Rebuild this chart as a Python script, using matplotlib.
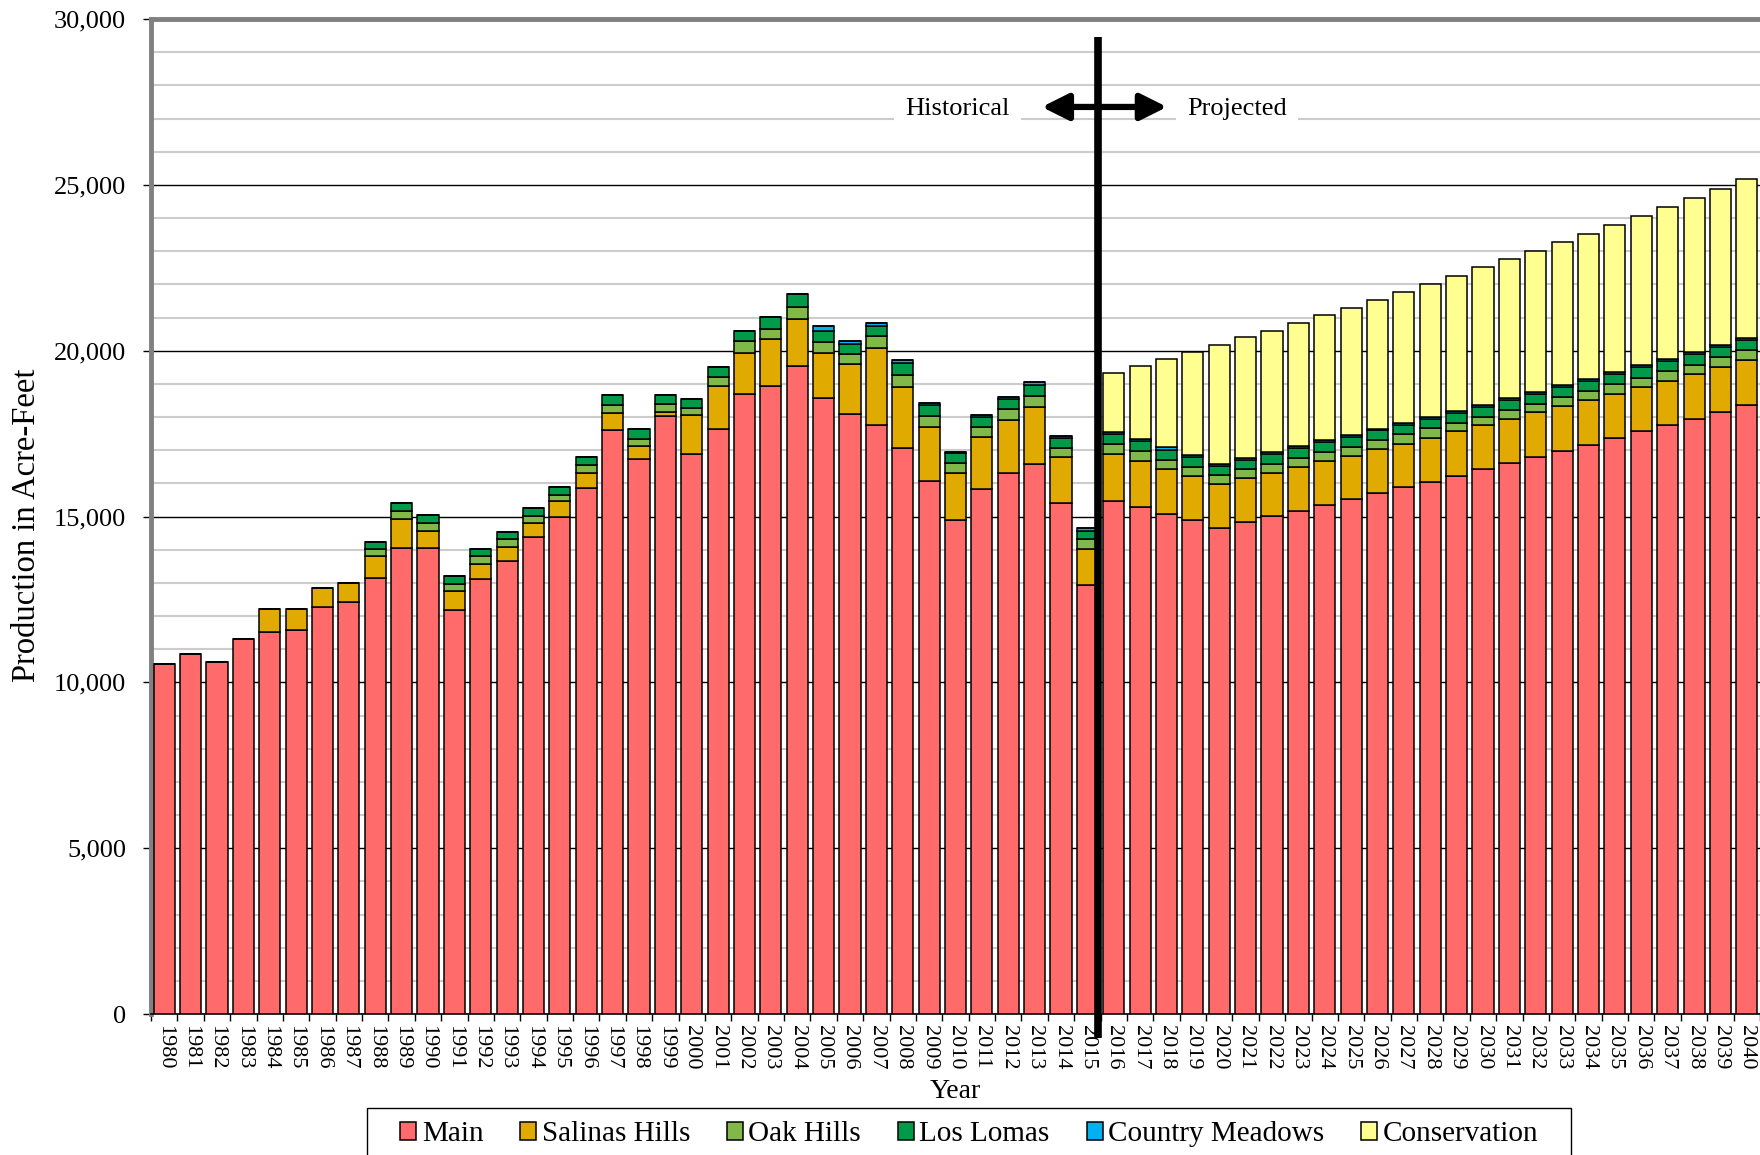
import numpy as np
import matplotlib.pyplot as plt
import matplotlib.transforms as mtransforms
from matplotlib.patches import Patch, Rectangle

plt.rcParams['font.family'] = ['Liberation Serif', 'DejaVu Serif']

years = list(range(1980, 2041))

main = [10560, 10870, 10610, 11310, 11520, 11590, 12260, 12420, 13160, 14050,
        14060, 12190, 13130, 13660, 14390, 15000, 15850, 17600, 16750, 18040,
        16890, 17630, 18690, 18940, 19530, 18560, 18100, 17760, 17070, 16060,
        14890, 15830, 16300, 16590, 15410, 12940, 15470, 15280, 15080, 14890,
        14670, 14830, 15010, 15180, 15350, 15530, 15700, 15880, 16050, 16230,
        16420, 16610, 16800, 16990, 17170, 17370, 17570, 17750, 17950, 18160,
        18370]
salinas_hills = [0, 0, 0, 0, 700, 630, 600, 590, 640, 870,
                 500, 560, 450, 430, 420, 460, 470, 520, 390, 110,
                 1160, 1300, 1250, 1400, 1440, 1370, 1490, 2320, 1850, 1640,
                 1420, 1560, 1600, 1700, 1380, 1080, 1420, 1390, 1360, 1320,
                 1300, 1330, 1310, 1310, 1320, 1310, 1330, 1320, 1330, 1340,
                 1330, 1340, 1340, 1340, 1340, 1340, 1340, 1350, 1350, 1350,
                 1360]
oak_hills = [0, 0, 0, 0, 0, 0, 0, 0, 220, 250,
             250, 210, 220, 220, 210, 180, 230, 250, 210, 240,
             210, 280, 350, 330, 360, 330, 310, 350, 360, 330,
             300, 300, 330, 360, 290, 300, 290, 300, 280, 280,
             270, 270, 280, 280, 280, 270, 270, 280, 280, 260,
             260, 260, 260, 270, 270, 280, 280, 280, 280, 290,
             290]
los_lomas = [0, 0, 0, 0, 0, 0, 0, 0, 220, 230,
             230, 240, 220, 230, 240, 240, 240, 300, 280, 280,
             290, 310, 320, 340, 380, 350, 310, 320, 350, 320,
             310, 310, 310, 320, 290, 260, 300, 300, 300, 300,
             290, 280, 280, 290, 290, 290, 300, 290, 290, 300,
             300, 300, 310, 310, 310, 310, 310, 310, 320, 310,
             300]
country_meadows = [0, 0, 0, 0, 0, 0, 0, 0, 0, 0,
                   0, 0, 0, 0, 0, 0, 0, 0, 0, 0,
                   0, 0, 0, 0, 0, 130, 90, 90, 90, 60,
                   30, 50, 80, 90, 50, 70, 70, 60, 70, 60,
                   50, 50, 60, 60, 60, 60, 50, 60, 60, 60,
                   60, 60, 60, 60, 60, 60, 60, 60, 60, 60,
                   70]
conservation = [0] * 36 + [1780, 2210, 2660, 3120, 3600, 3650, 3670, 3730, 3780,
                           3840, 3890, 3950, 4010, 4070, 4140, 4200, 4240, 4310,
                           4370, 4440, 4510, 4570, 4650, 4720, 4780]

series = [
    ("Main", main, "#FF6B6B"),
    ("Salinas Hills", salinas_hills, "#E0AA00"),
    ("Oak Hills", oak_hills, "#80B84A"),
    ("Los Lomas", los_lomas, "#009A48"),
    ("Country Meadows", country_meadows, "#00B0F0"),
    ("Conservation", conservation, "#FFFF91"),
]

last_historical = 2015

fig = plt.figure(figsize=(17.6, 11.55), dpi=100)
ax = fig.add_axes([0.0858, 0.122, 0.9142, 0.8615])

x = np.arange(len(years))
bottom = np.zeros(len(years))
for name, vals, color in series:
    vals = np.array(vals, dtype=float)
    ax.bar(x, vals, width=0.8, bottom=bottom, color=color,
           edgecolor="black", linewidth=1.1, zorder=3)
    bottom += vals

ax.set_xlim(-0.5, len(years) - 0.5)
ax.set_ylim(0, 30000)

# y axis: black major lines every 5,000, light grey every 1,000
ax.set_yticks(np.arange(0, 30001, 5000))
ax.set_yticks(np.arange(0, 30001, 1000), minor=True)
ax.set_yticklabels([f"{v:,}" for v in range(0, 30001, 5000)])
ax.grid(which="minor", axis="y", color="#CCCCCC", linewidth=1.5, zorder=0)
ax.grid(which="major", axis="y", color="black", linewidth=1.0, zorder=1)
ax.set_axisbelow(True)
ax.tick_params(axis="y", which="major", direction="out", length=6, width=1,
               pad=12, labelsize=19)
ax.tick_params(axis="y", which="minor", length=0)

# x axis: labels at bar centres, ticks at category boundaries
ax.set_xticks(x)
ax.set_xticklabels([str(y) for y in years], rotation=-90, fontsize=16)
ax.set_xticks(np.arange(-0.5, len(years), 1), minor=True)
ax.tick_params(axis="x", which="major", length=0, pad=8)
ax.tick_params(axis="x", which="minor", direction="out", length=5, width=1)

for side in ("left", "top"):
    ax.spines[side].set_color("#808080")
    ax.spines[side].set_linewidth(3.5)
ax.spines["right"].set_visible(False)
ax.spines["bottom"].set_color("black")
ax.spines["bottom"].set_linewidth(1.2)

ax.set_ylabel("Production in Acre-Feet", fontsize=23.5)
ax.yaxis.set_label_coords(-0.068, 0.4915)
ax.set_xlabel("Year", fontsize=20, labelpad=7)

# historical / projected divider
split = years.index(last_historical) + 0.42
trans = mtransforms.blended_transform_factory(ax.transData, ax.transAxes)
ax.plot([split, split], [-0.024, 0.982], color="black", linewidth=5.5,
        transform=trans, clip_on=False, zorder=6, solid_capstyle="butt")
ax.annotate("", xy=(split - 2.15, 27350), xytext=(split + 2.6, 27350),
            arrowprops=dict(arrowstyle="<|-|>", color="black", lw=4.5,
                            mutation_scale=40, shrinkA=0, shrinkB=0),
            zorder=6)
ax.text(split - 5.35, 27300, "Historical", fontsize=19, ha="center", va="center",
        bbox=dict(facecolor="white", edgecolor="none", pad=8), zorder=5)
ax.text(split + 5.25, 27300, "Projected", fontsize=19, ha="center", va="center",
        bbox=dict(facecolor="white", edgecolor="none", pad=8), zorder=5)

handles = [Patch(facecolor=c, edgecolor="black", linewidth=1.1, label=n)
           for n, _, c in series]
leg = fig.legend(handles=handles, loc="upper center", ncol=6,
                 bbox_to_anchor=(0.5507, 1 - 1108 / 1155), borderaxespad=0,
                 fontsize=21, frameon=False,
                 handlelength=0.55, handleheight=0.6, handletextpad=0.18,
                 columnspacing=1.27, borderpad=0.45)

# legend frame with wider side margins, running off the bottom edge
fig.canvas.draw()
bb = leg.get_window_extent().transformed(fig.transFigure.inverted())
side = 20 / 1760
fig.patches.append(Rectangle((bb.x0 - side, -0.05), bb.width + 2 * side,
                             bb.y1 + 0.05, transform=fig.transFigure,
                             facecolor="none", edgecolor="black", linewidth=1.0))

fig.savefig("out.png", dpi=100)
